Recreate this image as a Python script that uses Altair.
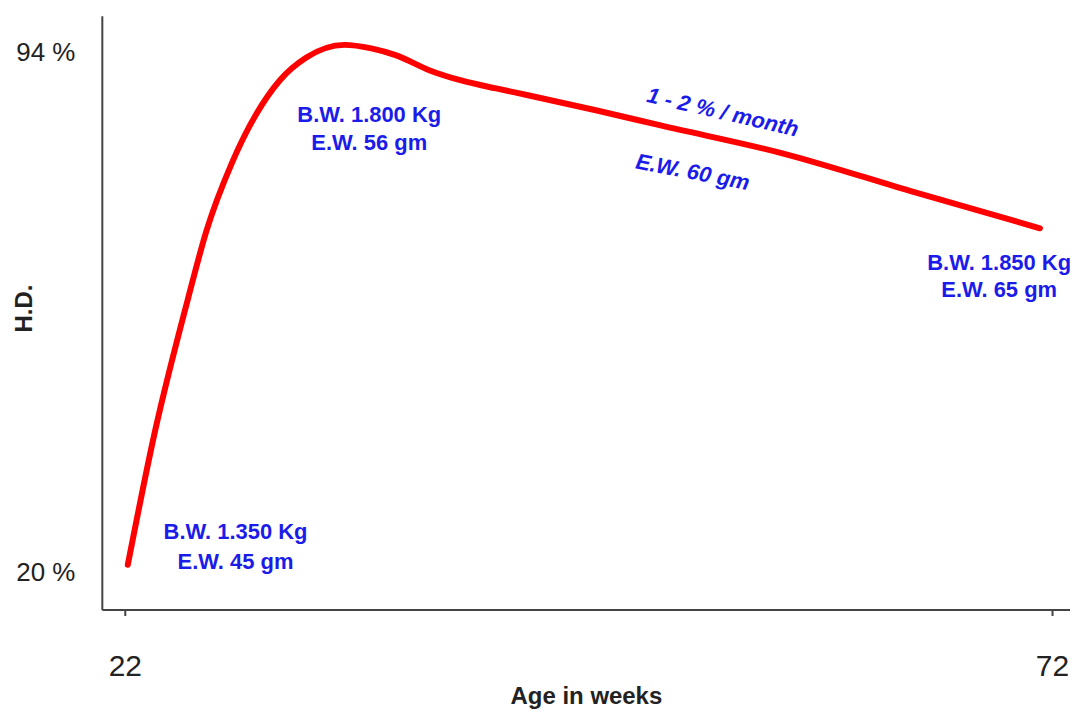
import altair as alt
import pandas as pd

# curve
weeks = [22.16, 23.61, 25.39, 26.41, 27.76, 29.10, 30.34, 31.79, 33.84, 35.29,
         36.64, 38.41, 40.19, 42.02, 43.80, 47.40, 50.95, 57.41, 64.62, 71.35]
hd = [21.1, 39.9, 58.8, 68.7, 78.2, 85.3, 90.0, 93.3, 95.1, 94.6,
      93.6, 91.5, 90.0, 88.9, 87.9, 85.8, 83.6, 79.7, 74.1, 69.0]

# tick values
x_ticks = [22, 72]
y_ticks = [20, 94]

# flat annotations
note_text = ["B.W. 1.350 Kg", "E.W. 45 gm", "B.W. 1.800 Kg", "E.W. 56 gm",
             "B.W. 1.850 Kg", "E.W. 65 gm"]
note_x = [27.97, 27.97, 35.18, 35.18, 69.15, 69.15]
note_y = [25.82, 21.56, 85.05, 81.07, 64.03, 60.19]

# slanted annotations
slant_text = ["1 - 2 % / month", "E.W. 60 gm"]
slant_x = [54.24, 52.62]
slant_y = [85.48, 76.96]
slant_angle = [13, 11]

curve = pd.DataFrame({"week": weeks, "hd": hd})
notes = pd.DataFrame({"week": note_x, "hd": note_y, "label": note_text})

xscale = alt.Scale(domain=[20.76, 72.97], nice=False, zero=False)
yscale = alt.Scale(domain=[14.74, 99.26], nice=False, zero=False)

AXIS_FONT = "Liberation Sans"

x_enc = alt.X("week:Q", scale=xscale, axis=alt.Axis(
    values=x_ticks, title="Age in weeks", grid=False,
    labelFont=AXIS_FONT, labelFontSize=30, labelColor="#222",
    labelPadding=36, tickSize=6, tickWidth=2, tickColor="#444",
    domainColor="#444", domainWidth=2,
    titleFont="Liberation Sans", titleFontSize=24, titleFontWeight="bold",
    titleColor="#222", titleY=94, titleBaseline="alphabetic"))
y_enc = alt.Y("hd:Q", scale=yscale, axis=alt.Axis(
    values=y_ticks, labelExpr="datum.value + ' %'", grid=False, ticks=False,
    labelFont=AXIS_FONT, labelFontSize=26, labelColor="#222",
    labelPadding=27, domainColor="#444", domainWidth=2,
    title="H.D.", titleFont="Liberation Sans", titleFontSize=24,
    titleFontWeight="bold", titleColor="#222", titleAngle=-90,
    titleX=-77, titleY=293, titleAlign="center", titleBaseline="middle"))

line = alt.Chart(curve).mark_line(
    color="#ff0000", strokeWidth=6, interpolate="monotone", strokeCap="round"
).encode(x=x_enc, y=y_enc)

flat = alt.Chart(notes).mark_text(
    font="Liberation Sans", fontSize=22, fontWeight="bold", color="#1c1ce8",
    align="center", baseline="middle"
).encode(x=alt.X("week:Q", scale=xscale), y=alt.Y("hd:Q", scale=yscale),
         text="label:N")

slant_layers = []
for t, sx, sy, a in zip(slant_text, slant_x, slant_y, slant_angle):
    df = pd.DataFrame({"week": [sx], "hd": [sy], "label": [t]})
    slant_layers.append(alt.Chart(df).mark_text(
        font="Liberation Sans", fontSize=22, fontWeight="bold", fontStyle="italic",
        color="#1c1ce8", align="center", baseline="middle", angle=a
    ).encode(x=alt.X("week:Q", scale=xscale), y=alt.Y("hd:Q", scale=yscale),
             text="label:N"))

chart = alt.layer(line, flat, *slant_layers).properties(
    width=970, height=595,
    background="white",
    autosize=alt.AutoSizeParams(type="none"),
    padding={"left": 94, "top": 7, "right": 0, "bottom": 99},
).configure_view(stroke=None)

chart.save("out.html", embed_options={"renderer": "svg", "actions": False})
